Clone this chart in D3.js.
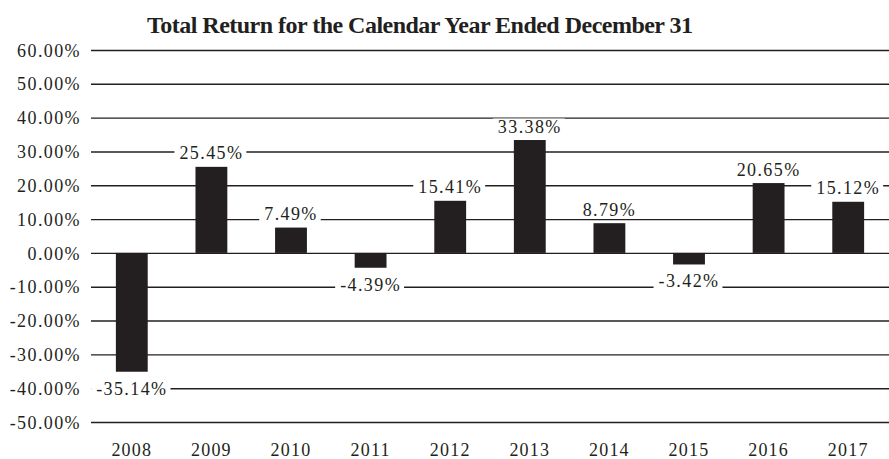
<!DOCTYPE html>
<html>
<head>
<meta charset="utf-8">
<script src="https://cdn.jsdelivr.net/npm/d3@7"></script>
<style>
  html, body { margin: 0; padding: 0; background: #fff; }
  svg { display: block; }
</style>
</head>
<body>
<svg id="chart" width="889" height="459"></svg>
<script>
// Calendar-year total returns, in percent
const years = ["2008", "2009", "2010", "2011", "2012", "2013", "2014", "2015", "2016", "2017"];
const returns = [-35.14, 25.45, 7.49, -4.39, 15.41, 33.38, 8.79, -3.42, 20.65, 15.12];
const yTicks = [60, 50, 40, 30, 20, 10, 0, -10, -20, -30, -40, -50];
const title = "Total Return for the Calendar Year Ended December 31";

const W = 889, H = 459;
const ink = "#231f20";
const serif = "'Liberation Serif'";
const svg = d3.select("#chart");
svg.append("rect").attr("width", W).attr("height", H).attr("fill", "#fff");

const x = d3.scaleBand()
  .domain(years)
  .range([92, 888])
  .paddingInner(0.6)
  .paddingOuter(0.3);

const y = d3.scaleLinear()
  .domain([-50, 60])
  .range([422, 50]);

const fmt = v => v.toFixed(2) + "%";

// Title
svg.append("text")
  .attr("x", 420)
  .attr("y", 33)
  .attr("text-anchor", "middle")
  .style("font-family", serif)
  .style("font-weight", "bold")
  .style("font-size", "24px")
  .style("fill", ink)
  .attr("textLength", 546)
  .attr("lengthAdjust", "spacing")
  .text(title);

// Y axis: labels on the left, full-width gridlines
const yAxis = d3.axisLeft(y)
  .tickValues(yTicks)
  .tickSize(-(W - 91))
  .tickPadding(10)
  .tickFormat(fmt);

const gy = svg.append("g")
  .attr("transform", "translate(91,0)")
  .call(yAxis)
  .attr("font-family", null)
  .attr("font-size", null);
gy.select(".domain").remove();
gy.selectAll(".tick line")
  .attr("stroke", ink)
  .attr("stroke-width", 1.4);
gy.selectAll(".tick text")
  .attr("x", -10)
  .attr("dy", "0.34em")
  .style("font-family", serif)
  .style("font-size", "18px")
  .style("letter-spacing", "1.4px")
  .style("fill", ink);

// X axis: year labels only
const gx = svg.append("g")
  .attr("transform", "translate(0,456)")
  .call(d3.axisBottom(x).tickSize(0).tickPadding(0))
  .attr("font-family", null)
  .attr("font-size", null);
gx.select(".domain").remove();
gx.selectAll(".tick text")
  .attr("y", 0)
  .attr("dy", 0)
  .style("font-family", serif)
  .style("font-size", "18px")
  .style("letter-spacing", "1.2px")
  .style("fill", ink);

// Bars
const data = years.map((yr, i) => ({ year: yr, value: returns[i] }));

svg.append("g")
  .selectAll("rect")
  .data(data)
  .join("rect")
  .attr("x", d => x(d.year))
  .attr("width", x.bandwidth())
  .attr("y", d => y(Math.max(0, d.value)))
  .attr("height", d => Math.abs(y(d.value) - y(0)))
  .attr("fill", ink);

// Value labels on white boxes that mask the gridlines behind them
const labels = svg.append("g");
const capH = 12;
data.forEach(d => {
  const cx = x(d.year) + x.bandwidth() / 2;
  const base = d.value >= 0 ? y(d.value) - 7.5 : y(d.value) + 23;
  const g = labels.append("g");
  const box = g.append("rect").attr("fill", "#fff");
  const t = g.append("text")
    .attr("x", cx)
    .attr("y", base)
    .attr("text-anchor", "middle")
    .style("font-family", serif)
    .style("font-size", "18px")
    .style("letter-spacing", "1.4px")
    .style("fill", ink)
    .text(fmt(d.value));
  const bb = t.node().getBBox();
  box.attr("x", bb.x - 5)
    .attr("width", bb.width + 8)
    .attr("y", base - capH - 2)
    .attr("height", capH + 4);
});
</script>
</body>
</html>
